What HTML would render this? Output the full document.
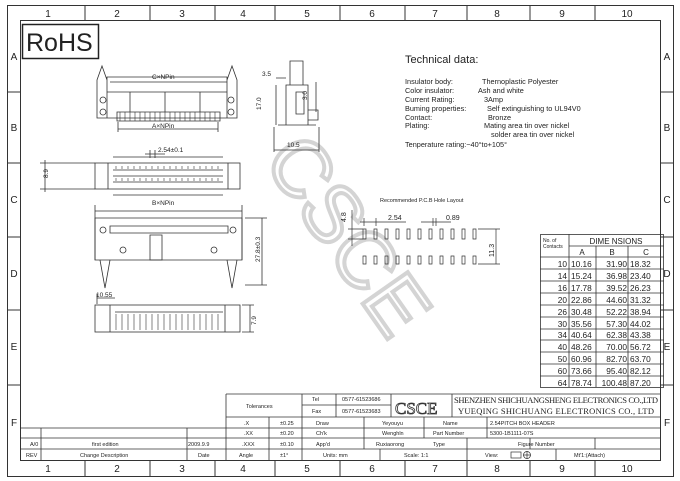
<!DOCTYPE html>
<html><head><meta charset="utf-8"><style>
html,body{margin:0;padding:0;background:#fff}
svg{display:block}
text{font-family:"Liberation Sans",sans-serif;fill:#222}
.m{font-family:"Liberation Mono",monospace}
.s{font-family:"Liberation Serif",serif}
</style></head><body>
<svg width="680" height="481" viewBox="0 0 680 481" xmlns="http://www.w3.org/2000/svg">
<g fill="none" stroke="#333" stroke-width="1">
<rect x="7.5" y="5.5" width="666" height="471"/>
<rect x="20.5" y="20.5" width="640" height="440"/>
<path d="M85 5v15M150 5v15M215 5v15M275 5v15M340 5v15M405 5v15M467 5v15M530 5v15M595 5v15"/>
<path d="M85 460v16M150 460v16M215 460v16M275 460v16M340 460v16M405 460v16M467 460v16M530 460v16M595 460v16"/>
<path d="M7 92h13M7 163h13M7 237h13M7 310h13M7 385h13M660 92h13M660 163h13M660 237h13M660 310h13M660 385h13"/>
</g>
<g class="s" font-size="10" text-anchor="middle">
<text x="48" y="17">1</text><text x="117" y="17">2</text><text x="182" y="17">3</text><text x="243" y="17">4</text><text x="307" y="17">5</text><text x="372" y="17">6</text><text x="435" y="17">7</text><text x="497" y="17">8</text><text x="562" y="17">9</text><text x="627" y="17">10</text>
<text x="48" y="472">1</text><text x="117" y="472">2</text><text x="182" y="472">3</text><text x="243" y="472">4</text><text x="307" y="472">5</text><text x="372" y="472">6</text><text x="435" y="472">7</text><text x="497" y="472">8</text><text x="562" y="472">9</text><text x="627" y="472">10</text>
<text x="14" y="60">A</text><text x="14" y="131">B</text><text x="14" y="203">C</text><text x="14" y="277">D</text><text x="14" y="350">E</text><text x="14" y="426">F</text>
<text x="667" y="60">A</text><text x="667" y="131">B</text><text x="667" y="203">C</text><text x="667" y="277">D</text><text x="667" y="350">E</text><text x="667" y="426">F</text>
</g>
<!-- RoHS -->
<rect x="22.5" y="24.5" width="76" height="34" fill="none" stroke="#222" stroke-width="1.5"/>
<text x="26" y="51" font-size="25">RoHS</text>
<!-- watermark -->
<text x="0" y="0" font-size="80" stroke="#d4d4d4" stroke-width="4" transform="translate(262,160) rotate(55)" style="fill:none">CSCE</text>
<!-- Technical data -->
<text x="405" y="63" font-size="11">Technical data:</text>
<g font-size="7.3">
<text x="405" y="84">Insulator body:</text><text x="482" y="84">Thernoplastic Polyester</text>
<text x="405" y="93">Color insulator:</text><text x="478" y="93">Ash and white</text>
<text x="405" y="102">Current Rating:</text><text x="484" y="102">3Amp</text>
<text x="405" y="111">Buming properties:</text><text x="487" y="111">Self extinguishing to UL94V0</text>
<text x="405" y="120">Contact:</text><text x="488" y="120">Bronze</text>
<text x="405" y="128">Plating:</text><text x="484" y="128">Mating area tin over nickel</text>
<text x="491" y="137">solder area tin over nickel</text>
<text x="405" y="147">Tenperature rating:−40°to+105°</text>
</g>
<!-- drawings -->
<g fill="none" stroke="#333" stroke-width="0.8">
<path d="M97 118V80l5-14 5 14v-3h120v3l5-14 5 14v38z"/>
<path d="M107 92h120M107 80v38M227 80v38M130 92v20M165 92v20M200 92v20"/>
<circle cx="103" cy="100" r="3"/><circle cx="103" cy="112" r="3"/><circle cx="231" cy="100" r="3"/><circle cx="231" cy="112" r="3"/>
<path d="M117 112h103v9H117z"/>
<path d="M110 82h117M118 129h100M118 122v10M218 122v10"/>
<path d="M290 61h13v24h-13zM286 85h22v40h-22zM296 92h8v22h-8zM278 125h38M308 110h10v10h-10"/>
<path d="M276 78h10M276 85v40M274 150h45M274 127v25M319 127v25M316 82v30"/>
<rect x="95" y="163" width="145" height="26"/>
<path d="M108 163v26M228 163v26M113 170h110M113 176h110M113 182h110M113 157h110M113 195h110"/>
<path d="M145 154h20M150 150v8M155 150v8M40 163h55M40 189h55M45 160v32"/>
<path d="M95 211h147M95 205v55M242 205v55"/>
<path d="M95 218h147v42H95z"/>
<path d="M100 260l5 28 5-28M227 260l5 28 5-28M110 226h118v7H110zM150 235h12v25h-12z"/>
<circle cx="103" cy="230" r="3"/><circle cx="233" cy="230" r="3"/><circle cx="123" cy="250" r="3"/><circle cx="214" cy="250" r="3"/>
<path d="M245 218h22M245 285h22M262 218v67"/>
<rect x="95" y="305" width="145" height="27"/>
<path d="M110 305v27M225 305v27M115 312h108M97 298h18M97 294v10"/>
<path d="M242 305h12M242 332h12M250 305v27"/>
<g stroke-width="0.6">
<path d="M120 112v9M125 112v9M130 112v9M135 112v9M140 112v9M145 112v9M150 112v9M155 112v9M160 112v9M165 112v9M170 112v9M175 112v9M180 112v9M185 112v9M190 112v9M195 112v9M200 112v9M205 112v9M210 112v9M215 112v9"/>
<path d="M116 314v16M122 314v16M128 314v16M134 314v16M140 314v16M146 314v16M152 314v16M158 314v16M164 314v16M170 314v16M176 314v16M182 314v16M188 314v16M194 314v16M200 314v16M206 314v16M212 314v16M218 314v16"/>
<path d="M116 166v3M122 166v3M128 166v3M134 166v3M140 166v3M146 166v3M152 166v3M158 166v3M164 166v3M170 166v3M176 166v3M182 166v3M188 166v3M194 166v3M200 166v3M206 166v3M212 166v3M218 166v3"/>
<path d="M116 178v3M122 178v3M128 178v3M134 178v3M140 178v3M146 178v3M152 178v3M158 178v3M164 178v3M170 178v3M176 178v3M182 178v3M188 178v3M194 178v3M200 178v3M206 178v3M212 178v3M218 178v3"/>
</g>
</g>
<g font-size="6.5" class="m">
<text x="152" y="79">C×NPin</text><text x="152" y="128">A×NPin</text>
<text x="262" y="76">3.5</text><text x="287" y="147">10.5</text>
<text x="158" y="152">2.54±0.1</text><text x="152" y="205">B×NPin</text>
<text x="96" y="297">10.55</text>
<text transform="translate(261,110) rotate(-90)">17.0</text>
<text transform="translate(307,100) rotate(-90)">3.0</text>
<text transform="translate(48,178) rotate(-90)">8.9</text>
<text transform="translate(260,262) rotate(-90)">27.8±0.3</text>
<text transform="translate(256,325) rotate(-90)">7.9</text>
</g>
<!-- PCB layout -->
<text x="380" y="202" font-size="5.5">Recommended P.C.B  Hole Layout</text>
<g fill="none" stroke="#333" stroke-width="0.7">
<path d="M363 229h3v10h-3zM374 229h3v10h-3zM385 229h3v10h-3zM396 229h3v10h-3zM407 229h3v10h-3zM418 229h3v10h-3zM429 229h3v10h-3zM440 229h3v10h-3zM451 229h3v10h-3zM462 229h3v10h-3zM473 229h3v10h-3z"/>
<path d="M363 256h3v8h-3zM374 256h3v8h-3zM385 256h3v8h-3zM396 256h3v8h-3zM407 256h3v8h-3zM418 256h3v8h-3zM429 256h3v8h-3zM440 256h3v8h-3zM451 256h3v8h-3zM462 256h3v8h-3zM473 256h3v8h-3z"/>
<path d="M348 229h15M348 239h15M352 210v36M360 222h46M364 218v8M376 218v8M421 222h30M433 218v8M436 218v8M478 229h22M478 264h22M496 229v35"/>
</g>
<g font-size="7" class="m"><text x="388" y="220">2.54</text><text x="446" y="220">0.89</text>
<text transform="translate(346,222) rotate(-90)">4.8</text><text transform="translate(494,257) rotate(-90)">11.3</text></g>
<!-- table -->
<g fill="none" stroke="#333" stroke-width="0.8">
<rect x="540.5" y="234.5" width="123" height="153"/>
<path d="M569 234v153M596 246v141M628 246v141M569 246h95"/>
<path d="M540 257h124M540 269h124M540 281h124M540 293h124M540 305h124M540 317h124M540 329h124M540 340h124M540 352h124M540 364h124M540 376h124"/>
</g>
<g font-size="8" fill="#333">
<text x="543" y="242" font-size="5">No. of</text><text x="543" y="248" font-size="5">Contacts</text>
<text x="616" y="244" text-anchor="middle">DIME NSIONS</text>
<text x="582" y="255" text-anchor="middle">A</text><text x="612" y="255" text-anchor="middle">B</text><text x="646" y="255" text-anchor="middle">C</text>
</g>
<g font-size="8.3" fill="#333">
<g text-anchor="end">
<text x="567" y="267">10</text><text x="567" y="279">14</text><text x="567" y="291">16</text><text x="567" y="303">20</text><text x="567" y="315">26</text><text x="567" y="327">30</text><text x="567" y="338">34</text><text x="567" y="350">40</text><text x="567" y="362">50</text><text x="567" y="374">60</text><text x="567" y="386">64</text>
<text x="627" y="267">31.90</text><text x="627" y="279">36.98</text><text x="627" y="291">39.52</text><text x="627" y="303">44.60</text><text x="627" y="315">52.22</text><text x="627" y="327">57.30</text><text x="627" y="338">62.38</text><text x="627" y="350">70.00</text><text x="627" y="362">82.70</text><text x="627" y="374">95.40</text><text x="627" y="386">100.48</text>
</g>
<text x="571" y="267">10.16</text><text x="571" y="279">15.24</text><text x="571" y="291">17.78</text><text x="571" y="303">22.86</text><text x="571" y="315">30.48</text><text x="571" y="327">35.56</text><text x="571" y="338">40.64</text><text x="571" y="350">48.26</text><text x="571" y="362">60.96</text><text x="571" y="374">73.66</text><text x="571" y="386">78.74</text>
<text x="630" y="267">18.32</text><text x="630" y="279">23.40</text><text x="630" y="291">26.23</text><text x="630" y="303">31.32</text><text x="630" y="315">38.94</text><text x="630" y="327">44.02</text><text x="630" y="338">43.38</text><text x="630" y="350">56.72</text><text x="630" y="362">63.70</text><text x="630" y="374">82.12</text><text x="630" y="386">87.20</text>
</g>
<!-- title block -->
<g fill="none" stroke="#333" stroke-width="0.8">
<path d="M226 394h434M302 405h89M226 417h434M20 428h640M20 438h640M20 449h640"/>
<path d="M226 394v66M302 394v23M336 394v23M391 394v23M452 394v23"/>
<path d="M41 428v32M187 428v32M269 417v43M302 417v43M364 417v32M424 417v21M487 417v21M467 438v11M530 438v11M595 438v11M380 449v11M467 449v11M556 449v11"/>
</g>
<g class="s" font-size="5.5" fill="#333">
<text x="246" y="408">Tolerances</text>
<text x="312" y="401">Tel</text><text x="312" y="413">Fax</text>
<text x="342" y="401">0577-61523686</text><text x="342" y="413">0577-61523683</text>
<text x="244" y="425">.X</text><text x="280" y="425">±0.25</text><text x="316" y="425">Draw</text><text x="382" y="425">Yeyouyu</text><text x="443" y="425">Name</text><text x="490" y="425">2.54PITCH BOX HEADER</text>
<text x="244" y="435">.XX</text><text x="280" y="435">±0.20</text><text x="316" y="435">Ch'k</text><text x="382" y="435">Wenghln</text><text x="433" y="435">Part Number</text><text x="490" y="435">5300-1B1111-07S</text>
<text x="30" y="446">A/0</text><text x="92" y="446">first edition</text><text x="188" y="446">2009.9.9</text><text x="242" y="446">.XXX</text><text x="280" y="446">±0.10</text><text x="316" y="446">App'd</text><text x="376" y="446">Ruxiaorong</text><text x="433" y="446">Type</text><text x="518" y="446">Figure Number</text>
<text x="26" y="457">REV</text><text x="80" y="457">Change Description</text><text x="198" y="457">Date</text><text x="239" y="457">Angle</text><text x="280" y="457">±1°</text><text x="323" y="457">Units: mm</text><text x="404" y="457">Scale: 1:1</text><text x="485" y="457">View:</text><text x="574" y="457">Mt'1:(Attach)</text>
</g>
<text x="395" y="414" font-size="17" stroke="#333" stroke-width="0.8" class="s" style="fill:none">CSCE</text>
<text x="454" y="403" font-size="8.5" class="s" textLength="204">SHENZHEN SHICHUANGSHENG ELECTRONICS CO.,LTD</text>
<text x="458" y="414" font-size="8.5" class="s" textLength="196">YUEQING SHICHUANG ELECTRONICS CO., LTD</text>
<g fill="none" stroke="#333" stroke-width="0.7"><rect x="511" y="452" width="10" height="6"/><circle cx="527" cy="455" r="3.5"/><path d="M523 455h8M527 451v8"/></g>
</svg>
</body></html>
